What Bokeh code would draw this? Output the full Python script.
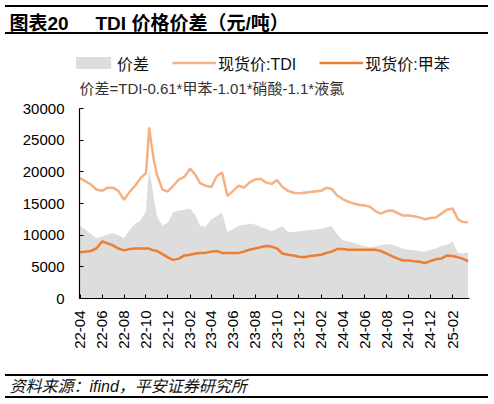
import math
import pandas as pd
from bokeh.plotting import figure
from bokeh.layouts import column
from bokeh.models import (ColumnDataSource, Label, Legend, LegendItem, Div,
                          FixedTicker, Range1d, DatetimeTickFormatter)
from bokeh.embed import file_html
from bokeh.resources import INLINE

# ---------------- data ----------------
dates = [
    "2022-04-01", "2022-04-16", "2022-05-01", "2022-05-16", "2022-06-01", "2022-06-16",
    "2022-07-01", "2022-07-16", "2022-08-01", "2022-08-16", "2022-09-01", "2022-09-16",
    "2022-10-01", "2022-10-06", "2022-10-10", "2022-10-16", "2022-10-24", "2022-11-01",
    "2022-11-16", "2022-12-01", "2022-12-16",
    "2023-01-01", "2023-01-16", "2023-02-01", "2023-02-16", "2023-03-01", "2023-03-16",
    "2023-04-01", "2023-04-16", "2023-05-01", "2023-05-16", "2023-06-01", "2023-06-16",
    "2023-07-01", "2023-07-16", "2023-08-01", "2023-08-16", "2023-09-01", "2023-09-16",
    "2023-10-01", "2023-10-16", "2023-11-01", "2023-11-16", "2023-12-01", "2023-12-16",
    "2024-01-01", "2024-01-16", "2024-02-01", "2024-02-16", "2024-03-01", "2024-03-16",
    "2024-04-01", "2024-04-16", "2024-05-01", "2024-05-16", "2024-06-01", "2024-06-16",
    "2024-07-01", "2024-07-16", "2024-08-01", "2024-08-16", "2024-09-01", "2024-09-16",
    "2024-10-01", "2024-10-16", "2024-11-01", "2024-11-16", "2024-12-01", "2024-12-16",
    "2025-01-01", "2025-01-16", "2025-02-01", "2025-02-16", "2025-03-01", "2025-03-16",
]

tdi_price = [
    19000, 18500, 18000, 17200, 17000, 17500, 17500, 17000, 15600, 16800, 17800, 19000,
    19800, 23500, 27000, 24500, 21500, 19500, 17200, 16900, 17800,
    18800, 19200, 20500, 19500, 18200, 17800, 17600, 19300, 19900, 16200, 17000, 17800,
    17500, 18300, 18800, 18900, 18300, 18100, 18700, 17600, 17000, 16700, 16600, 16700,
    16800, 16900, 17000, 17500, 17300, 16300, 15700, 15300, 15000, 14800, 14700, 14500,
    13800, 13400, 13800, 13900, 13500, 13100, 13100, 13000, 12800, 12500, 12700, 12800,
    13400, 14000, 14200, 12500, 12100, 12000,
]

toluene_price = [
    7300, 7400, 7500, 7900, 9000, 8700, 8400, 7900, 7600, 7800, 7900, 7900,
    7900, 7900, 7900, 7700, 7600, 7500, 7000, 6500, 6100,
    6300, 6800, 6900, 7100, 7200, 7200, 7400, 7500, 7200, 7200, 7200, 7200,
    7400, 7700, 7900, 8100, 8300, 8200, 7900, 7100, 6900, 6800, 6600, 6500,
    6700, 6800, 6900, 7200, 7400, 7800, 7800, 7700, 7700, 7700, 7700, 7700,
    7700, 7500, 7100, 6700, 6300, 6000, 6000, 5900, 5800, 5600, 5900, 6200,
    6300, 6800, 6700, 6500, 6300, 5900,
]

spread = [
    11500, 10800, 10200, 9500, 9800, 10100, 10300, 10000, 9500, 10800, 11800, 12300,
    13800, 18000, 20200, 18500, 15500, 13000, 11500, 12000, 13600,
    13900, 14000, 14200, 13100, 11500, 11300, 12500, 13000, 13600, 10500, 11000, 11500,
    11600, 11800, 11700, 11300, 11000, 10600, 11000, 11400, 10500, 10500, 10600, 10700,
    10800, 10900, 11000, 11300, 11400, 10200, 9200, 9000, 8800, 8500, 8300, 8100,
    8200, 8400, 8600, 8500, 8200, 7800, 7700, 7600, 7500, 7400, 7700, 7900,
    8300, 8500, 9000, 7200, 7100, 7300,
]

tick_labels = ["22-04", "22-06", "22-08", "22-10", "22-12", "23-02", "23-04", "23-06",
               "23-08", "23-10", "23-12", "24-02", "24-04", "24-06", "24-08", "24-10",
               "24-12", "25-02"]
y_ticks = [0, 5000, 10000, 15000, 20000, 25000, 30000]

series_names = ["价差", "现货价:TDI", "现货价:甲苯"]
title_left = "图表20"
title_right = "TDI 价格价差（元/吨）"
formula = "价差=TDI-0.61*甲苯-1.01*硝酸-1.1*液氯"
source_note = "资料来源：ifind，平安证券研究所"

# ---------------- styling ----------------
W = 494
FONT = "Liberation Sans, Noto Sans CJK SC"
C_SPREAD, C_TDI, C_TOL = "#DDDDDD", "#F4B183", "#ED7D31"

src = ColumnDataSource(dict(x=pd.to_datetime(dates), spread=spread,
                            tdi=tdi_price, tol=toluene_price))


def blank_fig(h):
    f = figure(width=W, height=h, output_backend="svg", toolbar_location=None,
               x_range=Range1d(0, W), y_range=Range1d(h, 0),
               x_axis_location=None, y_axis_location=None,
               min_border_left=0, min_border_right=0, min_border_top=0,
               min_border_bottom=0, frame_align=False)
    f.outline_line_color = None
    f.grid.grid_line_color = None
    f.background_fill_color = "white"
    f.border_fill_color = "white"
    return f


def add_label(f, text, x, y, size, style="normal", color="black"):
    f.add_layout(Label(x=x, y=y, text=text, text_font=FONT, text_font_size=size,
                       text_font_style=style, text_color=color,
                       text_baseline="middle", text_align="left"))


def rule(top_gap, h=2):
    # decorative horizontal rule of the report template, from x=5 to x=488
    return Div(text="", width=483, height=h, margin=(top_gap, 0, 0, 5),
               styles={"background-color": "black", "overflow": "hidden"})


# ---------------- header: title ----------------
hdr_title = blank_fig(25)
add_label(hdr_title, title_left, 9, 15.5, "19px", "bold")
add_label(hdr_title, title_right, 95, 15.5, "19px", "bold")

# ---------------- header: legend + formula ----------------
hdr = blank_fig(64)
add_label(hdr, formula, 79, 54, "15px", color="#333333")
# legend keys: same series, drawn with the header's own (pixel) scales -> off-canvas
lg_area = hdr.varea(x="x", y1=0, y2="spread", source=src, fill_color=C_SPREAD)
lg_tdi = hdr.line("x", "tdi", source=src, line_color=C_TDI, line_width=2.5)
lg_tol = hdr.line("x", "tol", source=src, line_color=C_TOL, line_width=2.5)
legend = Legend(items=[LegendItem(label=series_names[0], renderers=[lg_area]),
                       LegendItem(label=series_names[1], renderers=[lg_tdi]),
                       LegendItem(label=series_names[2], renderers=[lg_tol])],
                orientation="horizontal", location=(71, 23.5), padding=0, margin=0,
                spacing=23, glyph_width=44, glyph_height=15, label_height=20,
                label_standoff=2, label_text_font=FONT, label_text_font_size="16px",
                label_text_color="#111111", border_line_color=None,
                background_fill_alpha=0)
hdr.add_layout(legend, "center")

# ---------------- main chart ----------------
p = figure(width=W, height=276, x_axis_type="datetime", output_backend="svg",
           toolbar_location=None,
           x_range=Range1d(start=pd.Timestamp("2022-03-30"), end=pd.Timestamp("2025-03-20")),
           y_range=Range1d(0, 30000),
           min_border_left=79, min_border_right=25, min_border_top=10,
           min_border_bottom=76, frame_align=False)
p.outline_line_color = None
p.xgrid.grid_line_color = None
p.ygrid.grid_line_color = None
p.background_fill_color = "white"
p.border_fill_color = "white"

p.varea(x="x", y1=0, y2="spread", source=src, fill_color=C_SPREAD)
p.line("x", "tdi", source=src, line_color=C_TDI, line_width=2.5)
p.line("x", "tol", source=src, line_color=C_TOL, line_width=2.5)

tick_ms = [pd.Timestamp("20" + t + "-01").timestamp() * 1000 for t in tick_labels]
p.xaxis.ticker = FixedTicker(ticks=tick_ms)
fmt = "%y-%m"
p.xaxis.formatter = DatetimeTickFormatter(milliseconds=fmt, seconds=fmt, minsec=fmt,
                                          minutes=fmt, hourmin=fmt, hours=fmt, days=fmt,
                                          months=fmt, years=fmt)
p.xaxis.major_label_orientation = math.pi / 2
p.yaxis.ticker = FixedTicker(ticks=y_ticks)

for ax in (p.xaxis[0], p.yaxis[0]):
    ax.axis_line_color = "black"
    ax.axis_line_width = 1.2
    ax.major_tick_line_color = "black"
    ax.major_tick_in = 4
    ax.major_tick_out = 0
    ax.minor_tick_line_color = None
    ax.major_label_text_font = "Liberation Sans"
    ax.major_label_text_font_size = "15px"
    ax.major_label_text_color = "black"
p.yaxis.major_label_standoff = 15
p.xaxis.major_label_standoff = 12

# ---------------- footer: source note ----------------
ftr = blank_fig(20)
add_label(ftr, source_note, 9, 10, "16px", "italic", "#111111")

layout = column(rule(5), hdr_title, rule(0), hdr, p, rule(0), ftr, rule(0), spacing=0)
open("out.html", "w").write(file_html(layout, INLINE))
